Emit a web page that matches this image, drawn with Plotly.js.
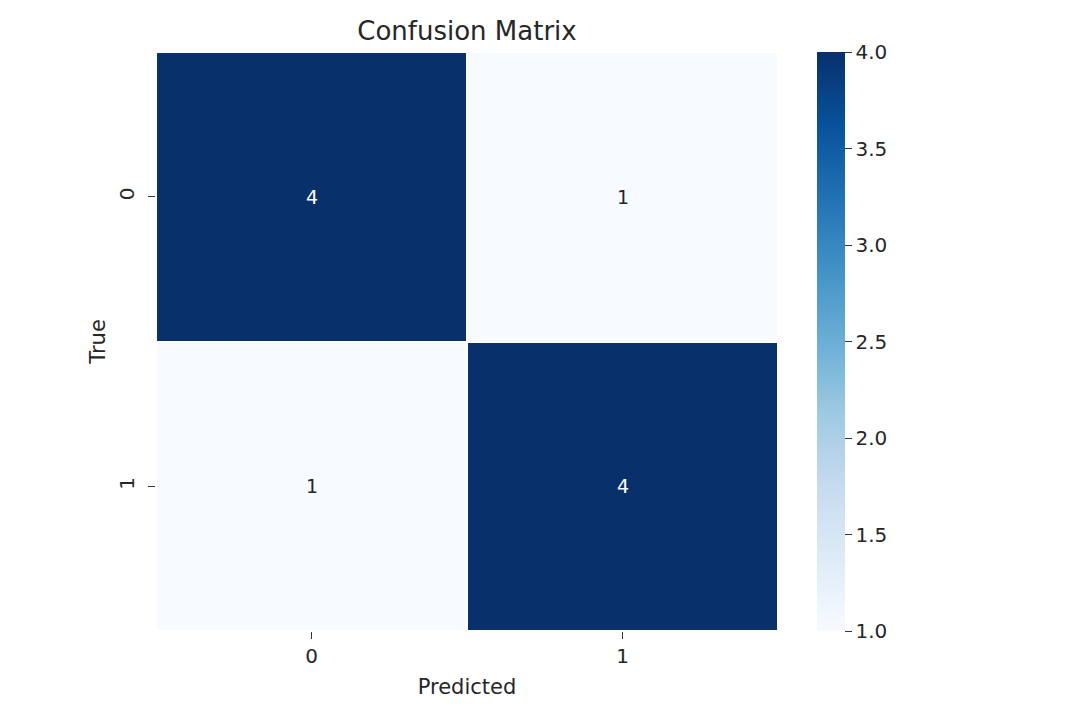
<!DOCTYPE html>
<html>
<head>
<meta charset="utf-8">
<script src="https://cdn.plot.ly/plotly-3.0.1.min.js"></script>
<style>html,body{margin:0;padding:0;background:#fff;}#chart{width:1080px;height:728px;}</style>
</head>
<body>
<div id="chart"></div>
<script>
const predictedLabels = ["0", "1"];
const trueLabels = ["0", "1"];
const counts = [
  [4, 1],
  [1, 4]
];
const colorbarTicks = [1.0, 1.5, 2.0, 2.5, 3.0, 3.5, 4.0];
const blues = [
  [0.0, "#f7fbff"], [0.125, "#deebf7"], [0.25, "#c6dbef"], [0.375, "#9ecae1"],
  [0.5, "#6baed6"], [0.625, "#4292c6"], [0.75, "#2171b5"], [0.875, "#08519c"], [1.0, "#08306b"]
];
const font = "DejaVu Sans, sans-serif";
const annotations = [];
for (let i = 0; i < trueLabels.length; i++) {
  for (let j = 0; j < predictedLabels.length; j++) {
    const v = counts[i][j];
    annotations.push({
      x: predictedLabels[j], y: trueLabels[i], text: String(v), showarrow: false,
      font: {family: font, size: 19, color: v > 2.5 ? "#ffffff" : "#262626"}
    });
  }
}
const trace = {
  type: "heatmap",
  x: predictedLabels,
  y: trueLabels,
  z: counts,
  colorscale: blues,
  zmin: 1, zmax: 4,
  xgap: 2, ygap: 2,
  hoverinfo: "skip",
  colorbar: {
    x: 1.0627, xanchor: "left", xref: "paper",
    y: 0.5, yanchor: "middle", len: 1, lenmode: "fraction",
    thickness: 28, thicknessmode: "pixels",
    outlinewidth: 0,
    ticks: "outside", ticklen: 7, tickwidth: 1, tickcolor: "#333",
    tickvals: colorbarTicks,
    tickformat: ".1f",
    ticklabelstandoff: 3,
    tickfont: {family: font, size: 20, color: "#262626"},
    xpad: 0, ypad: 0
  }
};
const layout = {
  width: 1080, height: 728,
  margin: {l: 156, r: 302, t: 52, b: 97},
  paper_bgcolor: "#ffffff", plot_bgcolor: "#ffffff",
  title: {text: "Confusion Matrix", x: 0.4324, xanchor: "center", y: 0.958, yanchor: "middle",
          font: {family: font, size: 26, color: "#262626"}},
  xaxis: {
    type: "category", showgrid: false, zeroline: false, showline: false,
    ticks: "outside", ticklen: 7, tickcolor: "#333",
    tickfont: {family: font, size: 20, color: "#262626"},
    title: {text: "Predicted", font: {family: font, size: 21, color: "#262626"}, standoff: 12}
  },
  yaxis: {
    type: "category", autorange: "reversed", showgrid: false, zeroline: false, showline: false,
    ticks: "outside", ticklen: 7, tickcolor: "#333", tickangle: -90,
    ticklabelstandoff: 6,
    tickfont: {family: font, size: 20, color: "#262626"},
    title: {text: "True", font: {family: font, size: 21, color: "#262626"}, standoff: 3}
  },
  annotations: annotations
};
Plotly.newPlot("chart", [trace], layout, {displayModeBar: false, staticPlot: true});
</script>
</body>
</html>
